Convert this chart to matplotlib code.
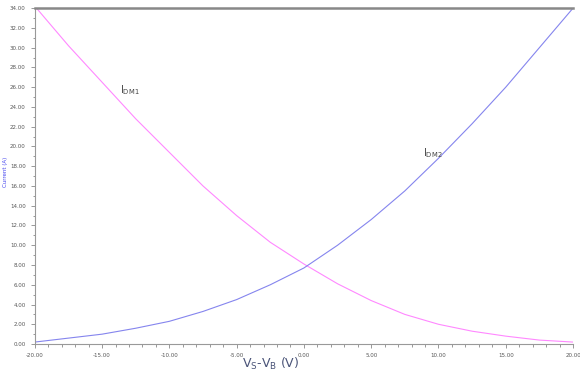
import numpy as np
from matplotlib import pyplot as plt
from matplotlib.ticker import MultipleLocator, FormatStrFormatter

# sweep voltage (V) and drain currents
v_sweep = [-20, -17.5, -15, -12.5, -10, -7.5, -5, -2.5, 0, 2.5, 5, 7.5, 10, 12.5, 15, 17.5, 20]
i_dm1 = [34.2, 30.2, 26.5, 22.8, 19.4, 16.0, 13.0, 10.3, 8.1, 6.1, 4.4, 3.0, 2.0, 1.3, 0.8, 0.4, 0.2]
i_dm2 = [0.2, 0.6, 1.0, 1.6, 2.3, 3.3, 4.5, 6.0, 7.7, 10.0, 12.6, 15.5, 18.8, 22.3, 26.0, 30.0, 34.0]

fig = plt.figure(figsize=(5.8, 3.87), dpi=100)
ax = fig.add_axes([0.060, 0.111, 0.928, 0.868])

ax.plot(v_sweep, i_dm1, color='#ff88ff', lw=0.8)
ax.plot(v_sweep, i_dm2, color='#8585ee', lw=0.8)

ax.set_xlim(-20, 20)
ax.set_ylim(0, 34)

ax.xaxis.set_major_locator(MultipleLocator(5))
ax.xaxis.set_minor_locator(MultipleLocator(1))
ax.yaxis.set_major_locator(MultipleLocator(2))
ax.yaxis.set_minor_locator(MultipleLocator(1))
ax.xaxis.set_major_formatter(FormatStrFormatter('%.2f'))
ax.yaxis.set_major_formatter(FormatStrFormatter('%.2f'))
ax.tick_params(which='both', colors='#888888', labelsize=4, labelcolor='#555555', width=0.6)
ax.tick_params(which='major', length=3)
ax.tick_params(which='minor', length=1.8)

for side in ['left', 'bottom']:
    ax.spines[side].set_color('#999999')
    ax.spines[side].set_linewidth(0.8)
ax.spines['top'].set_color('#888888')
ax.spines['top'].set_linewidth(1.8)
ax.spines['right'].set_visible(False)

ax.text(-12.9, 25.7, 'I$_{\\mathrm{DM1}}$', fontsize=7, color='#444444', va='center', ha='center')
ax.text(9.6, 19.3, 'I$_{\\mathrm{DM2}}$', fontsize=7, color='#444444', va='center', ha='center')

fig.text(0.466, 0.060, 'V$_{\\mathrm{S}}$-V$_{\\mathrm{B}}$ (V)', fontsize=9, color='#4a5478', ha='center', va='center')
fig.text(0.010, 0.555, 'Current (A)', fontsize=4, color='#4444ee', rotation=90, ha='center', va='center')

fig.savefig('out.png', dpi=100)
